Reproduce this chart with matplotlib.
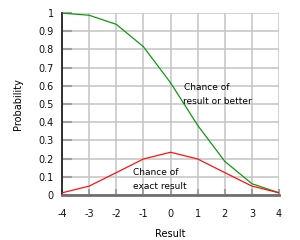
import matplotlib
matplotlib.use("Agg")
import matplotlib.pyplot as plt

results = [-4, -3, -2, -1, 0, 1, 2, 3, 4]
exact = [0.012, 0.049, 0.123, 0.198, 0.235, 0.198, 0.123, 0.049, 0.012]
or_better = [1.0, 0.988, 0.938, 0.815, 0.617, 0.383, 0.185, 0.062, 0.012]
yticks = [0, 0.1, 0.2, 0.3, 0.4, 0.5, 0.6, 0.7, 0.8, 0.9, 1]
ytick_labels = ["0", "0.1", "0.2", "0.3", "0.4", "0.5", "0.6", "0.7", "0.8", "0.9", "1"]

plt.rcParams['font.family'] = ['DejaVu Sans']
fig = plt.figure(figsize=(3, 2.4), dpi=100)
ax = fig.add_axes([0.207, 0.1875, 0.723, 0.758])

ax.plot(results, or_better, color='#119911', lw=0.9, zorder=3)
ax.plot(results, exact, color='#ff1111', lw=0.9, zorder=3)

ax.set_xlim(-4, 4)
ax.set_ylim(0, 1)
ax.set_xticks(results)
ax.set_xticklabels([str(r) for r in results])
ax.set_yticks(yticks)
ax.set_yticklabels(ytick_labels)
ax.grid(True, color='#c4c4c4', lw=1.1, zorder=0)
ax.set_axisbelow(True)

for s in ['top', 'right']:
    ax.spines[s].set_visible(False)
ax.spines['left'].set_color('#222222')
ax.spines['left'].set_linewidth(1.3)
ax.spines['bottom'].set_color('#707070')
ax.spines['bottom'].set_linewidth(2)
ax.tick_params(axis='both', direction='in', color='#a0a0a0',
               labelsize=7, labelcolor='#111111')
ax.tick_params(axis='y', length=7, width=1.5, pad=6)
ax.tick_params(axis='x', length=4, width=1.5, pad=10)

ax.set_xlabel("Result", fontsize=7, labelpad=7)
ax.set_ylabel("Probability", fontsize=7, labelpad=11)

ax.text(0.5, 0.593, "Chance of", fontsize=6.5, va='center', ha='left', zorder=4)
ax.text(0.46, 0.516, "result or better", fontsize=6.5, va='center', ha='left', zorder=4)
ax.text(-1.38, 0.126, "Chance of", fontsize=6.5, va='center', ha='left', zorder=4)
ax.text(-1.38, 0.044, "exact result", fontsize=6.5, va='center', ha='left', zorder=4)

fig.savefig("out.png", dpi=100)
